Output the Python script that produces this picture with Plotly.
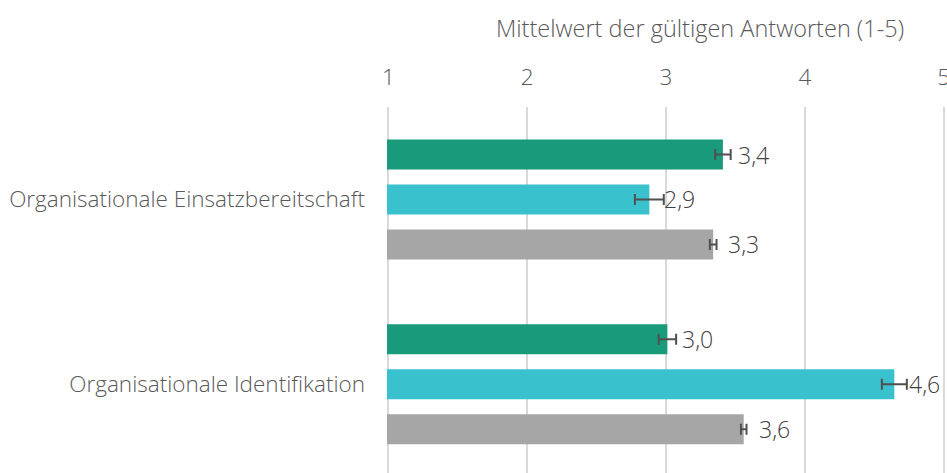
import plotly.graph_objects as go

categories = ["Organisationale Einsatzbereitschaft", "Organisationale Identifikation"]
series_names = ["Gruppe A", "Gruppe B", "Gruppe C"]
values_a = [3.41, 3.01]
values_b = [2.88, 4.645]
values_c = [3.34, 3.56]
errors_a = [0.056, 0.063]
errors_b = [0.104, 0.09]
errors_c = [0.024, 0.02]
colors = ["#199B7B", "#39C1CE", "#A6A6A6"]
x_ticks = [1, 2, 3, 4, 5]
axis_title = "Mittelwert der gültigen Antworten (1-5)"

FONT = "Open Sans"

fig = go.Figure()
annotations = []
for name, vals, errs, col in zip(series_names, [values_a, values_b, values_c],
                                 [errors_a, errors_b, errors_c], colors):
    fig.add_trace(go.Bar(
        y=categories, x=vals, orientation="h", name=name,
        marker=dict(color=col, line=dict(width=0)),
        error_x=dict(type="data", array=errs, color="#505050", thickness=2, width=5.5),
        offsetgroup=name,
    ))

offsets = [-1, 0, 1]
for off, vals in zip(offsets, [values_a, values_b, values_c]):
    for i, v in enumerate(vals):
        annotations.append(dict(
            x=v, y=i + off * 0.243, xref="x", yref="y", text=f"{v:.1f}".replace(".", ","),
            showarrow=False, xanchor="left", yanchor="middle", xshift=13,
            font=dict(family=FONT, size=23, color="#404040", weight=300),
        ))

annotations.append(dict(
    x=0.561, y=1.216, xref="paper", yref="paper", text=axis_title, showarrow=False,
    xanchor="center", yanchor="middle",
    font=dict(family=FONT, size=23.5, color="#595959", weight=300),
))

fig.update_layout(
    width=947, height=473,
    margin=dict(l=387, r=2, t=107, b=0),
    paper_bgcolor="white", plot_bgcolor="white",
    barmode="group", bargap=0.27, bargroupgap=0.333,
    showlegend=False,
    annotations=annotations,
    font=dict(family=FONT, color="#595959", size=22, weight=300),
    xaxis=dict(
        side="top", range=[0.99, 5.01], tickvals=x_ticks, ticktext=[str(t) for t in x_ticks],
        showgrid=True, gridcolor="#D9D9D9", gridwidth=1.5, zeroline=False,
        showline=False, ticks="", automargin=False, ticklabeloverflow="allow",
        tickfont=dict(family=FONT, size=22.5, color="#595959", weight=300),
        ticklabelstandoff=17,
    ),
    yaxis=dict(
        type="category", categoryorder="array", categoryarray=categories,
        range=[1.48, -0.5], showgrid=False, zeroline=False, showline=False, ticks="",
        automargin=False,
        tickfont=dict(family=FONT, size=22.5, color="#595959", weight=300), ticklabelstandoff=21,
    ),
)

fig.write_html("out.html", config={"displayModeBar": False},
               post_script="document.body.style.margin='0';")
